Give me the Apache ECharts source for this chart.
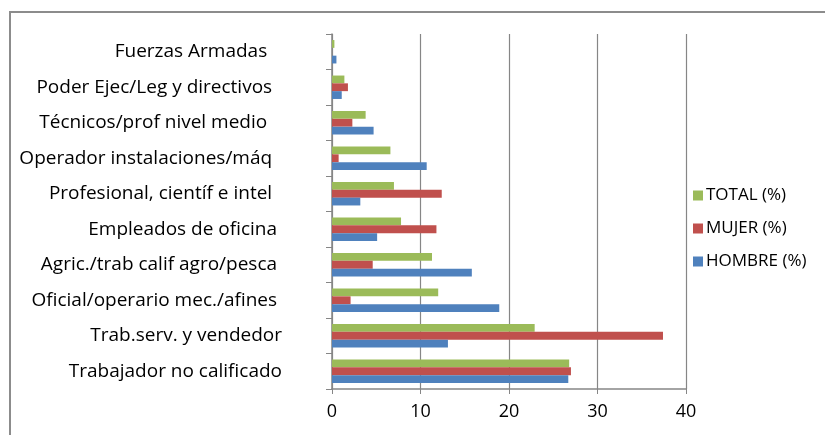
<!DOCTYPE html>
<html><head><meta charset="utf-8">
<script src="https://cdn.jsdelivr.net/npm/echarts@6/dist/echarts.min.js"></script>
<style>html,body{margin:0;padding:0;background:#fff}#c{width:825px;height:435px}</style>
</head><body><div id="c"></div>
<script>
const categories = ["Trabajador no calificado","Trab.serv. y vendedor","Oficial/operario mec./afines ","Agric./trab calif agro/pesca ","Empleados de oficina ","Profesional, científ e intel  ","Operador instalaciones/máq  ","Técnicos/prof nivel medio   ","Poder Ejec/Leg y directivos  ","Fuerzas Armadas   "];
const hombre = [26.7, 13.1, 18.9, 15.8, 5.1, 3.2, 10.7, 4.7, 1.1, 0.5];
const mujer  = [27.0, 37.4, 2.1, 4.6, 11.8, 12.4, 0.75, 2.3, 1.8, 0];
const total  = [26.8, 22.9, 12.0, 11.3, 7.8, 7.0, 6.6, 3.8, 1.4, 0.27];
const xTicks = [0, 10, 20, 30, 40];

const chart = echarts.init(document.getElementById('c'));
const font = "'Open Sans', sans-serif";
chart.setOption({
  animation: false,
  textStyle: {fontFamily: font},
  graphic: [{type:'rect', shape:{x:10, y:12, width:900, height:500}, style:{fill:'none', stroke:'#8c8c8c', lineWidth:2}, silent:true}],
  grid: {left: 332, right: 139, top: 34, bottom: 46},
  legend: {
    orient: 'vertical', left: 688, top: 179, itemGap: 10, itemWidth: 10, itemHeight: 10, icon: 'rect',
    data: ['TOTAL (%)','MUJER (%)','HOMBRE (%)'],
    textStyle: {fontFamily: font, fontSize: 17, color: '#000', padding:[0,0,0,-2], lineHeight: 23}
  },
  xAxis: {
    type: 'value', min: xTicks[0], max: xTicks[xTicks.length-1], interval: 10,
    axisLine: {show: true, lineStyle: {color: '#868686', width: 1.5}},
    axisTick: {show: true, length: 5, lineStyle: {color: '#868686'}},
    splitLine: {show: true, lineStyle: {color: '#868686', width: 1.2}},
    axisLabel: {fontSize: 18, color: '#000', margin: 14, fontFamily: font}
  },
  yAxis: {
    type: 'category', data: categories,
    axisLine: {show: true, lineStyle: {color: '#868686', width: 1.5}},
    axisTick: {show: true, length: 6, lineStyle: {color: '#868686'}},
    axisLabel: {fontSize: 19, color: '#000', margin: 50, fontFamily: font}
  },
  series: [
    {name:'TOTAL (%)', type:'bar', data: total, itemStyle:{color:'#9BBB59'}, barGap: '0%', barCategoryGap: '34%'},
    {name:'MUJER (%)', type:'bar', data: mujer, itemStyle:{color:'#C0504D'}, barGap: '0%', barCategoryGap: '34%'},
    {name:'HOMBRE (%)', type:'bar', data: hombre, itemStyle:{color:'#4F81BD'}, barGap: '0%', barCategoryGap: '34%'}
  ]
});
</script></body></html>
